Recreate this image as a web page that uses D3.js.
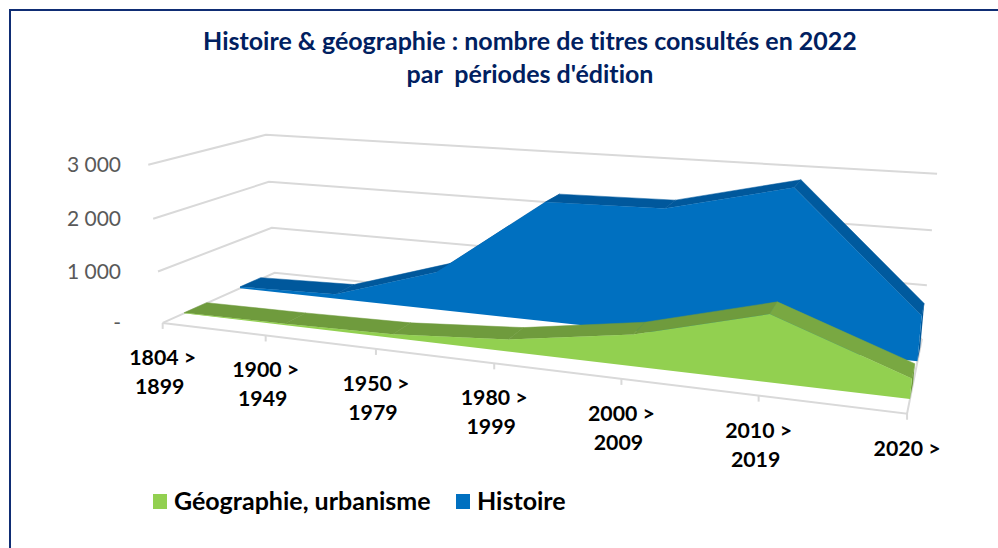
<!DOCTYPE html>
<html><head><meta charset="utf-8">
<script src="https://cdn.jsdelivr.net/npm/d3@7/dist/d3.min.js"></script>
<style>html,body{margin:0;padding:0;background:#fff;overflow:hidden}svg{display:block}text{font-family:Lato,"Open Sans",sans-serif;font-variant-ligatures:none;white-space:pre}</style>
</head><body><svg id="c" width="998" height="548"></svg>
<script>
const categories = [["1804 >","1899"],["1900 >","1949"],["1950 >","1979"],["1980 >","1999"],["2000 >","2009"],["2010 >","2019"],["2020 >"]];
const geographie = [10, 30, 70, 220, 560, 1150, 340];
const histoire = [30, 90, 750, 2290, 2330, 2850, 810];
const valueTicks = [0, 1000, 2000, 3000];
const tickLabels = ["-", "1 000", "2 000", "3 000"];
const titleLines = ["Histoire & géographie : nombre de titres consultés en 2022", "par  périodes d'édition"];
const legendNames = ["Géographie, urbanisme", "Histoire"];

// camera calibration: [x(0..1), v(0..1), z(0..1), screenX, screenY]
const calib = [
 [0,0,0,163,322],[1/6,0,0,266,337],[2/6,0,0,376,348],[3/6,0,0,494,363],[4/6,0,0,622,380],[5/6,0,0,758,397],[1,0,0,907,413],
 [0,1/3,0,158,271],[0,2/3,0,153,218],[0,1,0,148,165],
 [0,0,1,274,273],[0,1/3,1,272,228],[0,2/3,1,269,182],[0,1,1,266,135],
 [1,0,1,922,338],[1,1/3,1,927,285],[1,2/3,1,932,230],[1,1,1,937,174]
];
function fit(pts){
  const n=11,A=Array.from({length:n},()=>new Array(n+1).fill(0));
  const add=(r,b)=>{for(let i=0;i<n;i++){for(let j=0;j<n;j++)A[i][j]+=r[i]*r[j];A[i][n]+=r[i]*b;}};
  pts.forEach(([X,Y,Z,u,v])=>{
    add([X,Y,Z,1,0,0,0,0,-u*X,-u*Y,-u*Z],u);
    add([0,0,0,0,X,Y,Z,1,-v*X,-v*Y,-v*Z],v);
  });
  for(let i=0;i<n;i++){
    let m=i;for(let k=i+1;k<n;k++)if(Math.abs(A[k][i])>Math.abs(A[m][i]))m=k;
    [A[i],A[m]]=[A[m],A[i]];
    for(let k=0;k<n;k++){if(k===i)continue;const f=A[k][i]/A[i][i];for(let j=i;j<=n;j++)A[k][j]-=f*A[i][j];}
  }
  return A.map((r,i)=>r[n]/r[i]);
}
const P=fit(calib);
const xScale=d3.scaleLinear().domain([0,categories.length-1]).range([0,1]);
const yScale=d3.scaleLinear().domain([0,3000]).range([0,1]);
const project=(i,val,z)=>{
  const X=xScale(i),Y=yScale(val),w=P[8]*X+P[9]*Y+P[10]*z+1;
  return [(P[0]*X+P[1]*Y+P[2]*z+P[3])/w,(P[4]*X+P[5]*Y+P[6]*z+P[7])/w];
};
const line=d3.line();
const closed=pts=>line(pts)+"Z";
const svg=d3.select("#c");
const GRID="#d9d9d9";

// frame
svg.append("path").attr("d","M10,549V10H999").attr("fill","none").attr("stroke","#0f2d74").attr("stroke-width",2);

// title
svg.append("g").selectAll("text").data(titleLines).join("text")
 .attr("x",530).attr("y",(d,i)=>50+i*33).attr("text-anchor","middle")
 .attr("font-size",25).attr("font-weight",700).attr("fill","#002060").text(d=>d);

// walls
const last=categories.length-1;
const grid=svg.append("g").attr("fill","none").attr("stroke",GRID).attr("stroke-width",2);
valueTicks.forEach(v=>{
  grid.append("path").attr("d",line([project(0,v,0),project(0,v,1),project(last,v,1)]));
});
grid.append("path").attr("d",line([project(0,0,0),project(last,0,0),project(last,0,1)]));
categories.forEach((c,i)=>{
  const p=project(i,0,0);
  grid.append("path").attr("d",line([p,[p[0],p[1]+6]]));
});

// value labels
svg.append("g").selectAll("text").data(valueTicks).join("text")
 .attr("x",121).attr("y",(v,i)=>project(0,v,0)[1]+7.5).attr("text-anchor","end")
 .attr("font-size",21).attr("fill","#595959").text((v,i)=>tickLabels[i]);

// category labels
const catG=svg.append("g").attr("font-size",21.3).attr("font-weight",700).attr("fill","#000");
categories.forEach((c,i)=>{
  const p=project(i,0,0);
  c.forEach((t,k)=>catG.append("text").attr("x",p[0]-k*3).attr("y",p[1]+42+k*29).attr("text-anchor","middle").text(t));
});

// series slabs
function slab(vals,z0,z1,front,top,topDown,side){
  const g=svg.append("g");
  vals.forEach((v,i)=>{
    if(i===vals.length-1)return;
    const a=vals[i],b=vals[i+1];
    g.append("path").attr("d",closed([project(i,a,z0),project(i+1,b,z0),project(i+1,b,z1),project(i,a,z1)]))
     .attr("fill",b<a?topDown:top).attr("stroke",b<a?topDown:top).attr("stroke-width",.5);
  });
  g.append("path").attr("d",closed([project(last,0,z0),project(last,vals[last],z0),project(last,vals[last],z1),project(last,0,z1)])).attr("fill",side);
  const f=vals.map((v,i)=>project(i,v,z0));
  g.append("path").attr("d",closed([project(0,0,z0),...f,project(last,0,z0)])).attr("fill",front);
}
slab(histoire,0.66,0.86,"#0070c0","#00589c","#005a9e","#00589c");
slab(geographie,0.17,0.36,"#92d050","#6f9b3d","#79a842","#6f9b3d");

// legend
const lg=svg.append("g").attr("font-size",25).attr("font-weight",700).attr("fill","#000");
[[153,174,"#92d050"],[456,477,"#0070c0"]].forEach((l,i)=>{
  lg.append("rect").attr("x",l[0]).attr("y",494).attr("width",14).attr("height",15).attr("fill",l[2]);
  lg.append("text").attr("x",l[1]).attr("y",510).text(legendNames[i]);
});
</script></body></html>
